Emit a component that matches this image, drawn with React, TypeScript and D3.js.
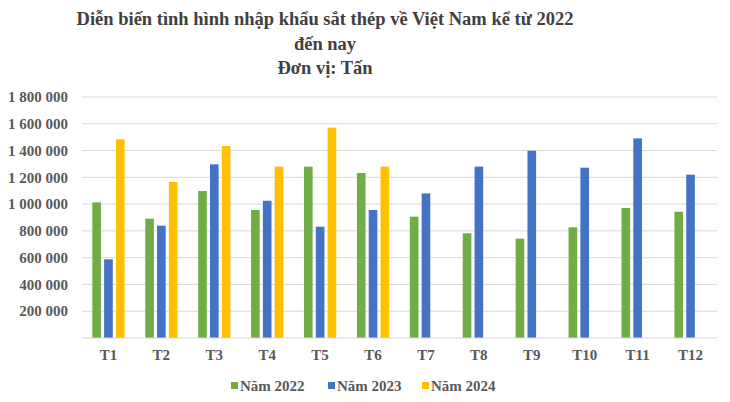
import React, { useEffect, useRef } from 'react';
import * as d3 from 'd3';

const months = ['T1', 'T2', 'T3', 'T4', 'T5', 'T6', 'T7', 'T8', 'T9', 'T10', 'T11', 'T12'];
const seriesNames = ['Năm 2022', 'Năm 2023', 'Năm 2024'];
const seriesColors = ['#70ad47', '#4472c4', '#ffc000'];
const values2022 = [1013000, 891000, 1098000, 956000, 1280000, 1232000, 906000, 782000, 742000, 827000, 971000, 943000];
const values2023 = [588000, 839000, 1297000, 1025000, 831000, 956000, 1080000, 1280000, 1399000, 1272000, 1491000, 1220000];
const values2024: (number | null)[] = [1484000, 1165000, 1434000, 1280000, 1571000, 1280000, null, null, null, null, null, null];
const yTicks = [200000, 400000, 600000, 800000, 1000000, 1200000, 1400000, 1600000, 1800000];
const titleLines = ['Diễn biến tình hình nhập khẩu sắt thép về Việt Nam kể từ 2022', 'đến nay', 'Đơn vị: Tấn'];

const W = 730;
const H = 402;
const FONT = '"Liberation Serif", "Times New Roman", serif';

export default function App() {
  const svgRef = useRef<SVGSVGElement>(null);

  useEffect(() => {
    if (!svgRef.current) return;
    const svg = d3.select(svgRef.current);
    svg.selectAll('*').remove();

    const margin = { top: 97, right: 13, bottom: 64, left: 82 };
    const innerW = W - margin.left - margin.right;
    const innerH = H - margin.top - margin.bottom;

    svg.append('rect').attr('width', W).attr('height', H).attr('fill', '#fff');

    // Title
    const title = svg.append('text')
      .attr('x', 325)
      .attr('text-anchor', 'middle')
      .attr('font-family', FONT)
      .attr('font-weight', 'bold')
      .attr('font-size', 18.5)
      .attr('fill', '#404040');
    titleLines.forEach((t, i) => {
      title.append('tspan').attr('x', 325).attr('y', 25 + i * 24.5).text(t);
    });

    const g = svg.append('g').attr('transform', `translate(${margin.left},${margin.top})`);

    const x = d3.scaleBand().domain(months).range([0, innerW]).paddingInner(0.39).paddingOuter(0.195);
    const xSub = d3.scaleBand().domain(seriesNames).range([0, x.bandwidth()]).paddingInner(0.27);
    const y = d3.scaleLinear().domain([0, 1800000]).range([innerH, 0]);

    // Grid lines
    g.append('g')
      .selectAll('line')
      .data(yTicks)
      .join('line')
      .attr('x1', 0)
      .attr('x2', innerW)
      .attr('y1', d => y(d))
      .attr('y2', d => y(d))
      .attr('stroke', '#d9d9d9')
      .attr('stroke-width', 1);

    // Y labels
    const fmt = (v: number) => d3.format(',')(v).replace(/,/g, ' ');
    g.append('g')
      .selectAll('text')
      .data(yTicks)
      .join('text')
      .attr('x', -14)
      .attr('y', d => y(d))
      .attr('dy', '0.35em')
      .attr('text-anchor', 'end')
      .attr('font-family', FONT)
      .attr('font-weight', 'bold')
      .attr('font-size', 15)
      .attr('fill', '#595959')
      .text(d => fmt(d));

    // Bars
    const allSeries = [values2022, values2023, values2024];
    allSeries.forEach((vals, si) => {
      g.append('g')
        .selectAll('rect')
        .data(months.map((m, i) => ({ m, v: vals[i] })).filter(d => d.v != null))
        .join('rect')
        .attr('x', d => (x(d.m) ?? 0) + (xSub(seriesNames[si]) ?? 0))
        .attr('y', d => y(d.v as number))
        .attr('width', xSub.bandwidth())
        .attr('height', d => innerH - y(d.v as number))
        .attr('fill', seriesColors[si]);
    });

    // Baseline
    g.append('line')
      .attr('x1', 0)
      .attr('x2', innerW)
      .attr('y1', innerH)
      .attr('y2', innerH)
      .attr('stroke', '#d9d9d9');

    // X labels
    g.append('g')
      .selectAll('text')
      .data(months)
      .join('text')
      .attr('x', d => (x(d) ?? 0) + x.bandwidth() / 2)
      .attr('y', innerH + 22)
      .attr('text-anchor', 'middle')
      .attr('font-family', FONT)
      .attr('font-weight', 'bold')
      .attr('font-size', 15)
      .attr('fill', '#595959')
      .text(d => d);

    // Legend
    const legendX = [231, 328, 422];
    const legend = svg.append('g');
    seriesNames.forEach((name, i) => {
      legend.append('rect')
        .attr('x', legendX[i])
        .attr('y', 382)
        .attr('width', 7)
        .attr('height', 7)
        .attr('fill', seriesColors[i]);
      legend.append('text')
        .attr('x', legendX[i] + 9)
        .attr('y', 391)
        .attr('font-family', FONT)
        .attr('font-weight', 'bold')
        .attr('font-size', 15)
        .attr('fill', '#595959')
        .text(name);
    });
  }, []);

  return (
    <div style={{ position: 'absolute', left: 0, top: 0 }}>
      <svg ref={svgRef} width={W} height={H} />
    </div>
  );
}
